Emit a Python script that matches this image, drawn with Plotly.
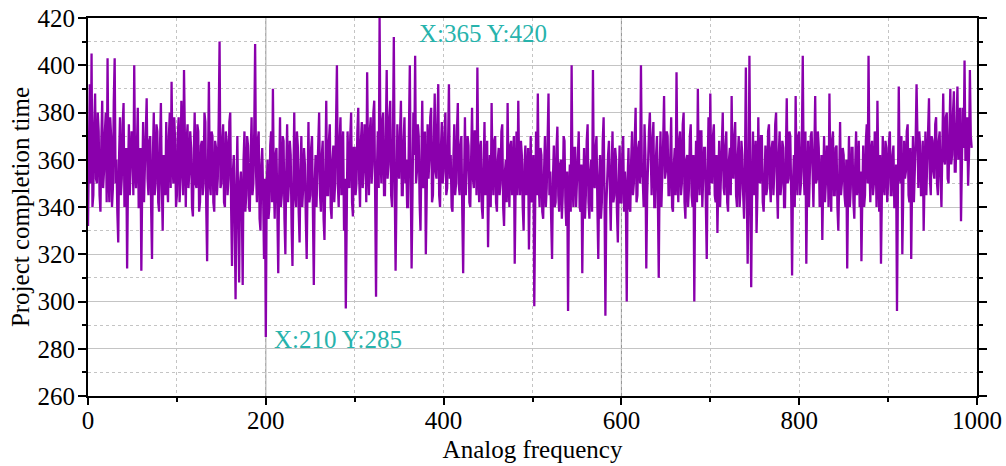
import plotly.graph_objects as go

# One sample per unit of analog frequency (x = 0, 1, 2, ...)
completion_time = [
    332,365, 392,350, 405,340, 345,375, 388,352, 350,380, 372,345, 338,368, 385,348, 355,372, 380,342, 403,355, 342,378, 370,340, 348,385, 403,350, 360,338, 325,362, 378,345, 352,375, 384,340, 347,365, 314,352, 375,345, 358,372,
    366,345, 400,355, 348,372, 382,340, 340,365, 313,350, 376,342, 355,378, 386,352, 345,368, 370,340, 318,362, 380,345, 350,375, 372,342, 338,366, 384,350, 330,362, 360,345, 376,352, 342,370, 380,348, 393,360, 350,378, 368,340,
    345,370, 378,342, 352,385, 370,345, 398,355, 340,368, 375,348, 355,372, 365,340, 336,362, 380,350, 348,375, 372,338, 342,366, 368,345, 350,380, 376,340, 317,358, 393,350, 345,372, 370,342, 338,368, 365,345, 352,376, 410,348,
    350,368, 375,342, 340,372, 368,345, 352,376, 380,340, 315,355, 362,335, 301,348, 370,338, 308,350, 355,342, 307,360, 372,338, 345,370, 366,340, 338,362, 378,345, 350,372, 409,355, 342,368, 372,335, 330,358, 365,345, 318,352,
    285,348, 360,335, 340,366, 372,342, 390,350, 335,362, 365,338, 312,352, 378,340, 345,370, 368,335, 320,355, 375,342, 350,368, 362,332, 315,350, 380,345, 340,372, 366,338, 325,356, 370,340, 348,365, 358,335, 318,350, 376,342,
    345,365, 370,338, 307,350, 362,340, 352,372, 380,345, 338,362, 368,335, 326,355, 385,345, 345,368, 375,340, 335,360, 366,342, 350,375, 400,350, 340,368, 378,345, 355,372, 330,352, 297,345, 372,355, 348,370, 380,342, 336,365,
    365,345, 350,372, 382,352, 340,368, 376,348, 355,375, 370,342, 397,360, 345,372, 378,350, 358,380, 385,345, 302,355, 372,348, 420,362, 350,376, 380,345, 345,370, 398,352, 358,378, 385,345, 340,368, 412,350, 313,345, 375,358,
    352,372, 385,345, 345,368, 378,350, 360,340, 340,372, 400,352, 314,345, 380,362, 404,350, 355,375, 370,342, 330,360, 385,348, 350,372, 320,345, 375,352, 360,378, 382,342, 345,368, 388,355, 352,375, 392,345, 340,365, 376,350,
    355,372, 380,345, 348,366, 392,352, 362,340, 338,360, 375,345, 350,372, 384,350, 345,366, 370,338, 312,350, 378,345, 355,370, 366,342, 340,365, 382,352, 348,372, 372,345, 399,358, 342,365, 368,340, 335,356, 376,345, 352,368,
    323,350, 362,340, 384,355, 345,368, 370,342, 338,360, 365,345, 350,372, 375,340, 332,355, 360,342, 384,352, 340,366, 368,345, 352,370, 316,348, 372,345, 385,355, 345,368, 362,340, 330,358, 366,345, 348,365, 322,350, 370,342,
    345,362, 298,340, 372,345, 388,350, 340,365, 362,338, 335,355, 370,340, 348,368, 388,345, 355,335, 318,352, 366,340, 342,365, 374,345, 338,358, 360,335, 345,370, 368,342, 332,355, 296,345, 358,338, 400,350, 340,365, 365,340,
    350,365, 372,340, 338,358, 312,345, 365,335, 345,368, 375,342, 335,355, 360,338, 398,350, 348,365, 370,340, 318,352, 362,335, 342,368, 378,345, 294,340, 355,362, 368,338, 330,355, 372,342, 345,365, 360,338, 325,350, 366,342,
    342,362, 370,338, 355,345, 300,352, 365,340, 338,360, 372,345, 350,368, 382,342, 345,365, 368,350, 400,355, 352,340, 375,362, 314,345, 362,372, 380,350, 345,368, 376,340, 340,362, 370,345, 310,355, 372,340, 350,368, 387,352,
    355,372, 370,345, 345,366, 378,340, 338,358, 365,345, 397,355, 342,368, 372,345, 350,375, 380,342, 335,360, 362,340, 348,370, 375,345, 340,362, 300,350, 368,342, 390,355, 345,372, 372,340, 350,365, 365,342, 318,355, 378,345,
    388,352, 350,370, 375,345, 342,362, 329,350, 368,340, 355,372, 380,348, 345,366, 372,342, 338,360, 365,345, 387,355, 352,370, 376,345, 340,362, 370,340, 348,368, 362,345, 335,358, 399,350, 316,345, 404,352, 306,348, 372,345,
    355,368, 329,345, 378,352, 350,370, 370,342, 338,360, 366,345, 348,372, 375,350, 342,365, 368,345, 355,375, 380,348, 335,362, 372,345, 350,368, 365,340, 340,362, 386,350, 352,372, 370,345, 311,350, 362,340, 387,355, 345,370,
    372,345, 350,368, 404,355, 345,372, 316,350, 368,340, 355,370, 372,345, 340,362, 387,350, 352,372, 365,340, 345,362, 326,350, 370,342, 350,366, 362,340, 388,355, 338,368, 372,345, 345,365, 366,340, 330,352, 376,345, 350,365,
    362,345, 340,360, 314,348, 370,340, 348,365, 365,342, 335,358, 372,345, 352,368, 340,355, 317,345, 366,340, 345,368, 375,350, 404,358, 342,365, 368,345, 350,372, 362,340, 385,355, 338,362, 316,345, 370,350, 345,368, 365,342,
    350,368, 372,345, 345,362, 366,340, 340,358, 296,345, 391,355, 350,370, 320,345, 368,352, 355,372, 375,345, 342,365, 318,350, 370,342, 352,368, 392,355, 348,372, 366,345, 345,368, 330,352, 372,345, 358,375, 386,352, 345,370,
    368,355, 352,375, 378,350, 345,368, 372,352, 340,365, 388,360, 358,378, 380,352, 350,372, 390,358, 362,380, 389,355, 355,375, 391,360, 370,382, 334,358, 382,365, 402,360, 360,378, 349,362, 398,370, 365,
]
frequency = list(range(len(completion_time)))

x_ticks = [0, 200, 400, 600, 800, 1000]
y_ticks = [260, 280, 300, 320, 340, 360, 380, 400, 420]
ref_lines_x = [200, 600]

annotations_text = ["X:210 Y:285", "X:365 Y:420"]
annotations_pos = [(207, 284), (370, 413.5)]

FONT = "Liberation Serif"
LINE_COLOR = "#8A00AC"
NOTE_COLOR = "#27B3AC"

fig = go.Figure()
fig.add_trace(go.Scatter(
    x=frequency, y=completion_time, mode="lines",
    line=dict(color=LINE_COLOR, width=2.3),
    showlegend=False, hoverinfo="x+y",
))

for xv in ref_lines_x:
    fig.add_shape(type="line", xref="x", yref="paper", x0=xv, x1=xv, y0=0, y1=1,
                  line=dict(color="#8c8c8c", width=1), layer="below")

for txt, (ax, ay) in zip(annotations_text, annotations_pos):
    fig.add_annotation(x=ax, y=ay, xref="x", yref="y", text=txt, showarrow=False,
                       xanchor="left", yanchor="middle",
                       font=dict(family=FONT, size=25, color=NOTE_COLOR))

fig.update_layout(
    width=1006, height=466,
    margin=dict(l=88, r=29, t=18, b=70),
    plot_bgcolor="white", paper_bgcolor="white",
    font=dict(family=FONT, size=25, color="black"),
)

fig.update_xaxes(
    range=[0, 1000], tickvals=x_ticks, showgrid=False, zeroline=False, automargin=False,
    showline=True, linecolor="black", linewidth=2, mirror=True,
    ticks="outside", ticklen=7, tickwidth=1.5, tickcolor="black", ticklabelstandoff=-6,
    tickfont=dict(family=FONT, size=25, color="black"),
    minor=dict(dtick=100, showgrid=True, griddash="dot", gridcolor="#c4c4c4", gridwidth=1,
               ticks="outside", ticklen=4, tickcolor="black"),
    title=dict(text="Analog frequency", font=dict(family=FONT, size=25, color="black"), standoff=7),
)

fig.update_yaxes(
    range=[260, 420], tickvals=y_ticks, showgrid=True, gridcolor="#c4c4c4", gridwidth=1,
    zeroline=False, showline=True, linecolor="black", linewidth=2, mirror="allticks", automargin=False,
    ticks="outside", ticklen=8, tickwidth=1.5, tickcolor="black", ticklabelstandoff=-2,
    tickfont=dict(family=FONT, size=25, color="black"),
    minor=dict(dtick=10, showgrid=True, griddash="dot", gridcolor="#c4c4c4", gridwidth=1,
               ticks="outside", ticklen=4, tickcolor="black"),
    title=dict(text="Project completion time", font=dict(family=FONT, size=25, color="black"), standoff=1),
)

fig.write_html("out.html", post_script="document.body.style.margin='0';",
               config={"displayModeBar": False})
